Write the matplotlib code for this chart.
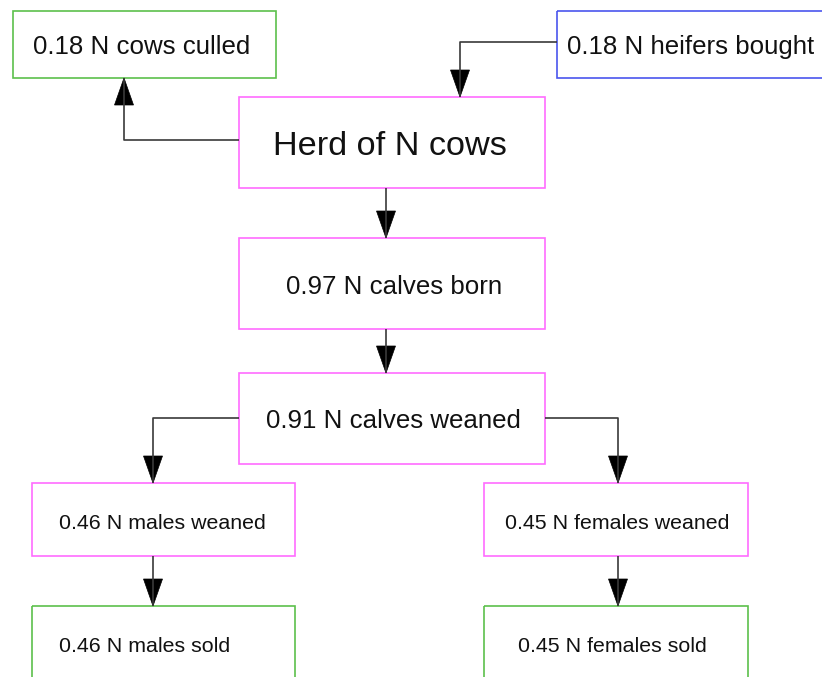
import matplotlib.pyplot as plt
from matplotlib.patches import Rectangle, Polygon

plt.rcParams['font.family'] = ['Liberation Sans', 'DejaVu Sans']

# node labels
labels = ["0.18 N cows culled", "0.18 N heifers bought", "Herd of N cows",
          "0.97 N calves born", "0.91 N calves weaned",
          "0.46 N males weaned", "0.45 N females weaned",
          "0.46 N males sold", "0.45 N females sold"]
kinds = ["out", "in", "stock", "stock", "stock", "stock", "stock", "out", "out"]

edge_cols = {"out": "#5cc04c", "in": "#4a55ee", "stock": "#ff6cff"}

# boxes in pixel coords: x0, y0, x1, y1
boxes = [(13, 11, 276, 78), (557, 11, 840, 78), (239, 97, 545, 188),
         (239, 238, 545, 329), (239, 373, 545, 464),
         (32, 483, 295, 556), (484, 483, 748, 556),
         (32, 606, 295, 720), (484, 606, 748, 720)]
# text anchor (x, baseline y, alignment)
text_pos = [(142, 54, 'center'), (567, 54, 'left'), (390, 155, 'center'),
            (394, 294, 'center'), (393, 428, 'center'),
            (162, 529, 'center'), (617, 529, 'center'),
            (59, 652, 'left'), (612, 652, 'center')]
sizes = [18.6, 18.6, 24.7, 18.6, 18.6, 15.4, 15.4, 15.4, 15.4]

fig = plt.figure(figsize=(8.22, 6.77), dpi=100)
ax = fig.add_axes([0, 0, 1, 1])
ax.set_xlim(0, 822)
ax.set_ylim(677, 0)
ax.axis('off')

for lab, k, (x0, y0, x1, y1), (tx, ty, ha), fs in zip(labels, kinds, boxes, text_pos, sizes):
    ax.add_patch(Rectangle((x0, y0), x1 - x0, y1 - y0, fill=False,
                           ec=edge_cols[k], lw=1.2))
    ax.text(tx, ty, lab, ha=ha, va='baseline', fontsize=fs, color='#111111')


def connector(pts, head_len=27, head_w=19):
    xs = [p[0] for p in pts]
    ys = [p[1] for p in pts]
    ax.plot(xs, ys, color='#3a3a3a', lw=1.2, solid_capstyle='butt')
    (ax_, ay), (bx, by) = pts[-2], pts[-1]
    dx, dy = bx - ax_, by - ay
    n = (dx ** 2 + dy ** 2) ** 0.5
    ux, uy = dx / n, dy / n
    base = (bx - ux * head_len, by - uy * head_len)
    tri = [(bx, by),
           (base[0] - uy * head_w / 2, base[1] + ux * head_w / 2),
           (base[0] + uy * head_w / 2, base[1] - ux * head_w / 2)]
    ax.add_patch(Polygon(tri, closed=True, fc='black', ec='black', lw=0.5))


connector([(239, 140), (124, 140), (124, 78)])
connector([(557, 42), (460, 42), (460, 97)])
connector([(386, 188), (386, 238)])
connector([(386, 329), (386, 373)])
connector([(239, 418), (153, 418), (153, 483)])
connector([(545, 418), (618, 418), (618, 483)])
connector([(153, 556), (153, 606)])
connector([(618, 556), (618, 606)])

fig.savefig('out.png', dpi=100, facecolor='white')
